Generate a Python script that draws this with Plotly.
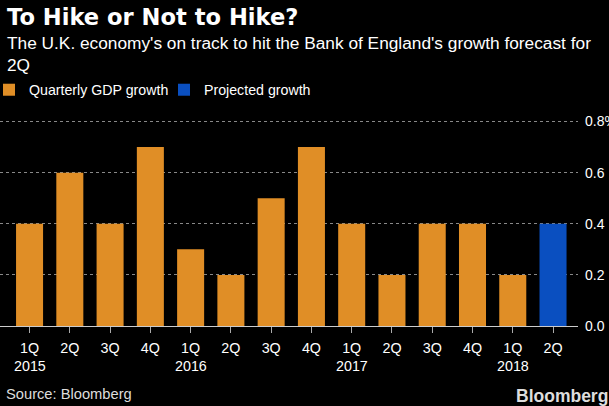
import plotly.graph_objects as go

quarters = ["1Q", "2Q", "3Q", "4Q", "1Q", "2Q", "3Q", "4Q", "1Q", "2Q", "3Q", "4Q", "1Q", "2Q"]
years = ["2015", "2016", "2017", "2018"]
year_index = [0, 4, 8, 12]
gdp_growth = [0.4, 0.6, 0.4, 0.7, 0.3, 0.2, 0.5, 0.7, 0.4, 0.2, 0.4, 0.4, 0.2]
projected_growth = [0.4]
y_ticks = [0.0, 0.2, 0.4, 0.6, 0.8]
y_tick_text = ["0.0", "0.2", "0.4", "0.6", "0.8%"]

ORANGE = "#E08E26"
BLUE = "#0A4FC0"
FONT = "Liberation Sans"
TITLE_FONT = "DejaVu Sans"

W, H = 609, 406
MT, MB, ML, MR = 120, 80, 0, 31
PH = H - MT - MB
PW = W - ML - MR


def py(ypix):
    return 1 + (MT - ypix) / PH


def px(xpix):
    return (xpix - ML) / PW


x_all = list(range(len(quarters)))
x_gdp = x_all[:len(gdp_growth)]
x_proj = x_all[len(gdp_growth):]

fig = go.Figure()
fig.add_trace(go.Bar(x=x_gdp, y=gdp_growth, name="Quarterly GDP growth",
                     marker=dict(color=ORANGE, line=dict(width=0))))
fig.add_trace(go.Bar(x=x_proj, y=projected_growth, name="Projected growth",
                     marker=dict(color=BLUE, line=dict(width=0))))

annotations = [
    dict(text="<b>To Hike or Not to Hike?</b>", x=px(5), xref="paper", y=py(17.5), yref="paper",
         xanchor="left", yanchor="middle", showarrow=False,
         font=dict(family=TITLE_FONT, size=22.6, color="white")),
    dict(text="The U.K. economy's on track to hit the Bank of England's growth forecast for<br>2Q",
         x=px(5), xref="paper", y=py(53.5), yref="paper", xanchor="left", yanchor="middle",
         showarrow=False, align="left",
         font=dict(family=FONT, size=17.3, color="white")),
    dict(text="Source: Bloomberg", x=px(4), xref="paper", y=py(394), yref="paper",
         xanchor="left", yanchor="middle", showarrow=False,
         font=dict(family=FONT, size=14.7, color="#dddddd")),
    dict(text="<b>Bloomberg</b>", x=px(610), xref="paper", y=py(396), yref="paper",
         xanchor="right", yanchor="middle", showarrow=False,
         font=dict(family=FONT, size=17.5, color="#dddddd")),
]
for yi, yr in zip(year_index, years):
    annotations.append(dict(text=yr, x=yi, xref="x", y=py(366), yref="paper",
                            xanchor="center", yanchor="middle", showarrow=False,
                            font=dict(family=FONT, size=14.3, color="white")))

fig.update_layout(
    width=W, height=H,
    margin=dict(l=ML, r=MR, t=MT, b=MB, pad=0, autoexpand=False),
    paper_bgcolor="black", plot_bgcolor="black",
    barmode="overlay", bargap=0.329,
    showlegend=True,
    legend=dict(orientation="h", x=px(-11), xanchor="left", y=py(90), yanchor="middle",
                font=dict(family=FONT, size=14.2, color="white"),
                bgcolor="rgba(0,0,0,0)", itemwidth=30, traceorder="normal",
                entrywidth=130, entrywidthmode="pixels"),
    annotations=annotations,
    xaxis=dict(
        range=[-0.734, 13.62],
        tickmode="array", tickvals=x_all, ticktext=quarters,
        ticks="outside", ticklen=6, tickcolor="#aaaaaa", tickwidth=1,
        showgrid=False, showline=True, linecolor="#cccccc", linewidth=1,
        zeroline=False, ticklabelstandoff=3,
        tickfont=dict(family=FONT, size=14.3, color="white"),
        fixedrange=True,
    ),
    yaxis=dict(
        side="right", range=[0, 0.806],
        tickmode="array", tickvals=y_ticks, ticktext=y_tick_text,
        showgrid=True, gridcolor="#888888", griddash="dot", gridwidth=1,
        zeroline=False, ticks="", ticklabelstandoff=6,
        tickfont=dict(family=FONT, size=14, color="white"),
        fixedrange=True,
    ),
)

fig.write_html("out.html", config={"displayModeBar": False},
               post_script="document.body.style.margin='0';document.body.style.background='black';document.body.style.overflow='hidden';")
